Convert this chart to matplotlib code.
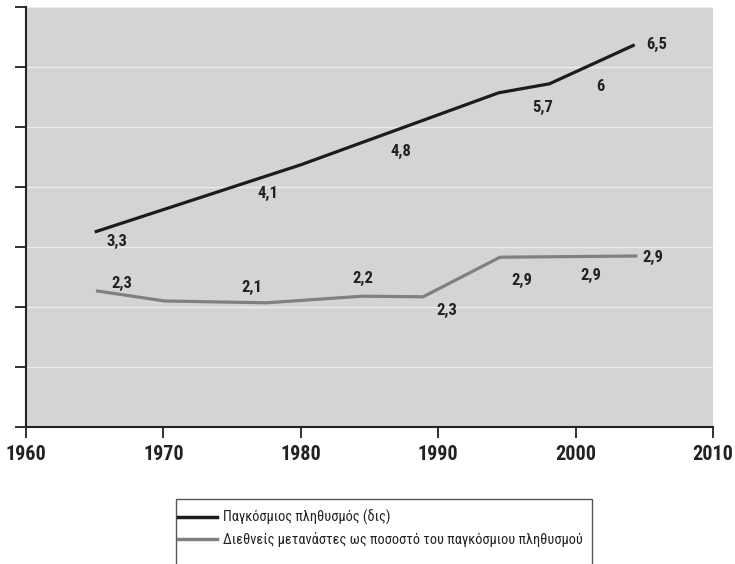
import matplotlib
matplotlib.use("Agg")
import matplotlib.pyplot as plt
from matplotlib.patches import Rectangle

# world population (billions)
pop_years = [1965, 1980, 1994.4, 1998.1, 2004.3]
pop_vals = [3.25, 4.37, 5.57, 5.72, 6.37]
pop_text = ["3,3", "4,1", "4,8", "5,7", "6", "6,5"]
pop_text_x = [1966.6, 1977.6, 1987.3, 1997.6, 2001.8, 2005.9]
pop_text_y = [3.1, 3.9, 4.6, 5.33, 5.67, 6.37]

# international migrants as % of world population
mig_years = [1965.1, 1970.1, 1977.5, 1984.5, 1988.9, 1994.5, 2004.5]
mig_vals = [2.27, 2.10, 2.07, 2.18, 2.17, 2.83, 2.85]
mig_text = ["2,3", "2,1", "2,2", "2,3", "2,9", "2,9", "2,9"]
mig_text_x = [1967.0, 1976.4, 1984.5, 1990.6, 1996.1, 2001.1, 2005.6]
mig_text_y = [2.4, 2.32, 2.47, 1.95, 2.45, 2.52, 2.82]

legend_labels = ["Παγκόσμιος πληθυσμός (δις)",
                 "Διεθνείς μετανάστες ως ποσοστό του παγκόσμιου πληθυσμού"]

narrow = ["Roboto Condensed", "DejaVu Sans"]
stretch = "condensed"

W, H = 735, 564
fig = plt.figure(figsize=(W / 100, H / 100), dpi=100)
ax = fig.add_axes([26 / W, (H - 427) / H, (713 - 26) / W, (427 - 7) / H])
ax.set_facecolor("#d3d4d6")

ax.plot(pop_years, pop_vals, color="#1c1c1c", lw=2.3, solid_capstyle="butt")
ax.plot(mig_years, mig_vals, color="#808080", lw=2.3, solid_capstyle="butt")

for t, x, y in zip(pop_text, pop_text_x, pop_text_y):
    ax.text(x, y, t, ha="center", va="center", fontsize=12, fontweight="bold",
            family=narrow, fontstretch=stretch, color="#222222")
for t, x, y in zip(mig_text, mig_text_x, mig_text_y):
    ax.text(x, y, t, ha="center", va="center", fontsize=12, fontweight="bold",
            family=narrow, fontstretch=stretch, color="#222222")

ax.set_xlim(1960, 2010)
ax.set_ylim(0, 7)
ax.set_xticks(range(1960, 2011, 10))
ax.set_yticks(range(0, 8))
ax.set_yticklabels([])
ax.grid(axis="y", color="#ececec", lw=1)
ax.set_axisbelow(True)
for s in ["top", "right"]:
    ax.spines[s].set_visible(False)
for s in ["left", "bottom"]:
    ax.spines[s].set_color("#222222")
    ax.spines[s].set_linewidth(1.5)
ax.tick_params(direction="out", length=8, width=1.3, color="#222222")
for lbl in ax.get_xticklabels():
    lbl.set_fontsize(14.5)
    lbl.set_fontweight("bold")
    lbl.set_family(narrow)
    lbl.set_fontstretch(stretch)
    lbl.set_color("#222222")
ax.tick_params(axis="x", pad=5)

# legend box (runs off the bottom edge like the original)
fig.patches.append(Rectangle((176 / W, -0.05), (592 - 176) / W, 0.05 + (H - 499) / H,
                             transform=fig.transFigure, facecolor="white",
                             edgecolor="#555555", lw=1))
h1, = ax.plot([], [], color="#1c1c1c", lw=2.5)
h2, = ax.plot([], [], color="#808080", lw=2.5)
leg = fig.legend([h1, h2], legend_labels, loc="upper left",
                 bbox_to_anchor=(178 / W, (H - 510) / H), frameon=False,
                 borderpad=0, borderaxespad=0,
                 handlelength=2.7, handletextpad=0.4, labelspacing=0.45,
                 prop={"family": narrow, "size": 10.4, "stretch": stretch})
for t in leg.get_texts():
    t.set_color("#222222")

fig.savefig("out.png", dpi=100)
